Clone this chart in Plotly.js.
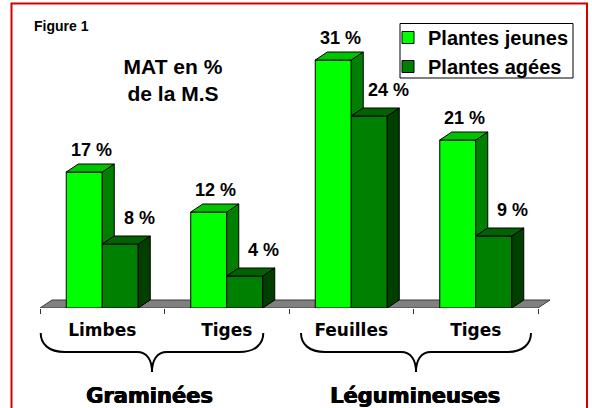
<!DOCTYPE html>
<html>
<head>
<meta charset="utf-8">
<script src="https://cdn.plot.ly/plotly-3.0.1.min.js"></script>
<style>html,body{margin:0;padding:0;background:#fff;}#chart{width:592px;height:408px;}</style>
</head>
<body>
<div id="chart"></div>
<script>
// ---- data ----
var categories = ['Limbes', 'Tiges', 'Feuilles', 'Tiges'];
var groups = ['Graminées', 'Légumineuses'];
var seriesNames = ['Plantes jeunes', 'Plantes agées'];
var jeunes = [17, 12, 31, 21];
var agees = [8, 4, 24, 9];
var valueLabels = jeunes.map(function(v){return v + ' %';});
var valueLabels2 = agees.map(function(v){return v + ' %';});

// ---- geometry ----
var W = 592, H = 408;
var mL = 40, mR = 42, mT = 36, mB = 100;
var plotW = W - mL - mR, plotH = H - mT - mB;
var unitPx = 124.5;               // px per category
var xmin = -0.5, xmax = xmin + plotW / unitPx;
var ymax = 34;                    // 8 px per unit
var pxPerY = plotH / ymax;
var barW = 36 / unitPx;
var dx = 12 / unitPx, dy = 8 / pxPerY;   // 3D depth offset

function px(x){ return (x - mL) / plotW; }
function py(y){ return (H - mB - y) / plotH; }

var idx = categories.map(function(c,i){return i;});
var traces = [];

var cLight = '#00ff00', cLightTop = '#00c400', cLightSide = '#007f00';
var cDark = '#008000', cDarkTop = '#006200', cDarkSide = '#003f00';

traces.push({type:'bar', name: seriesNames[0], x: idx, y: jeunes, width: barW, offset: -barW,
  marker:{color:cLight, line:{color:'#000', width:1}}, hoverinfo:'skip'});
traces.push({type:'bar', name: seriesNames[1], x: idx, y: agees, width: barW, offset: 0,
  marker:{color:cDark, line:{color:'#000', width:1}}, hoverinfo:'skip'});

function poly(xs, ys, color){
  traces.push({type:'scatter', mode:'lines', x: xs.concat([xs[0]]), y: ys.concat([ys[0]]),
    fill:'toself', fillcolor: color, line:{color:'#000', width:1}, showlegend:false, hoverinfo:'skip'});
}
idx.forEach(function(c, i){
  var lv = jeunes[i], dv = agees[i];
  var l0 = c - barW, l1 = c, d0 = c, d1 = c + barW;
  poly([l1, l1+dx, l1+dx, l1], [lv, lv+dy, dv+dy, dv], cLightSide);   // light side (visible part)
  poly([l0, l1, l1+dx, l0+dx], [lv, lv, lv+dy, lv+dy], cLightTop);    // light top
  poly([d1, d1+dx, d1+dx, d1], [dv, dv+dy, dy, 0], cDarkSide);        // dark side
  poly([d0, d1, d1+dx, d0+dx], [dv, dv, dv+dy, dv+dy], cDarkTop);     // dark top
});

var labFont = {family:'Liberation Sans, Arial, sans-serif', size:18, weight:'bold', color:'#000'};
var annotations = [];
idx.forEach(function(c, i){
  annotations.push({x: c - barW/2, y: jeunes[i], xref:'x', yref:'y', text: valueLabels[i], showarrow:false,
    xshift: 7, yshift: 22, font: labFont});
  annotations.push({x: c + barW/2, y: agees[i], xref:'x', yref:'y', text: valueLabels2[i], showarrow:false,
    xshift: 19, yshift: 26, font: labFont});
});
annotations.push({x: px(32), y: py(25.5), xref:'paper', yref:'paper', xanchor:'left', yanchor:'middle',
  text:'Figure 1', showarrow:false, font:{family:'Liberation Sans, Arial, sans-serif', size:14, weight:'bold', color:'#000'}});
var groupCenters = [149.5, 415];
groups.forEach(function(g, i){
  annotations.push({x: px(groupCenters[i]), y: py(396), xref:'paper', yref:'paper', xanchor:'center', yanchor:'middle',
    text: g, showarrow:false, font:{family:'DejaVu Sans, sans-serif', size:21, weight:'bold', color:'#000',
    shadow:'0.7px 0 0 #000, -0.3px 0 0 #000'}});
});

function brace(x0, xc, x1, yt, ym, yb){
  var p = function(x,y){ return px(x).toFixed(5) + ',' + py(y).toFixed(5); };
  return 'M' + p(x0, yt) +
    ' C' + p(x0, ym-8) + ' ' + p(x0+8, ym) + ' ' + p(x0+24, ym) +
    ' L' + p(xc-15, ym) +
    ' C' + p(xc-5, ym) + ' ' + p(xc, ym+8) + ' ' + p(xc, yb) +
    ' C' + p(xc, ym+8) + ' ' + p(xc+5, ym) + ' ' + p(xc+15, ym) +
    ' L' + p(x1-24, ym) +
    ' C' + p(x1-8, ym) + ' ' + p(x1, ym-8) + ' ' + p(x1, yt);
}

var shapes = [
  // floor
  {type:'path', xref:'x', yref:'y', layer:'below',
   path: 'M' + xmin + ',0 L3.5,0 L' + (3.5+dx) + ',' + dy + ' L' + (xmin+dx) + ',' + dy + ' Z',
   fillcolor:'#808080', line:{color:'#3a3a3a', width:1}},
  // braces
  {type:'path', xref:'paper', yref:'paper', path: brace(40.7, 152, 263.3, 333, 352, 372), line:{color:'#000', width:2}},
  {type:'path', xref:'paper', yref:'paper', path: brace(301, 416, 531, 333, 352, 372), line:{color:'#000', width:2}},
  // legend box
  {type:'rect', xref:'paper', yref:'paper', x0: px(400), x1: px(573), y0: py(23.5), y1: py(78),
   line:{color:'#000', width:1}, fillcolor:'#fff'},
  // red frame
  {type:'rect', xref:'paper', yref:'paper', x0: px(11.5), x1: px(587), y0: py(3.5), y1: py(410),
   line:{color:'#d20000', width:2}, fillcolor:'rgba(0,0,0,0)'}
];

var layout = {
  width: W, height: H,
  margin:{l:mL, r:mR, t:mT, b:mB, pad:0},
  paper_bgcolor:'#fff', plot_bgcolor:'#fff',
  barmode:'overlay',
  title:{text:'MAT en %<br>de la M.S', x: 173/W, xanchor:'center', y: 1 - 74/H, yanchor:'middle',
    font:{family:'Liberation Sans, Arial, sans-serif', size:21, weight:'bold', color:'#000'}},
  xaxis:{range:[xmin, xmax], tickmode:'array', tickvals: idx, ticktext: categories, ticks:'',
    showgrid:false, zeroline:false, showline:false, ticklabelstandoff: 10,
    tickfont:{family:'DejaVu Sans, sans-serif', size:17, weight:'bold', color:'#000'},
    minor:{tickmode:'array', tickvals:[-0.5, 0.5, 1.5, 2.5, 3.5], ticks:'outside', ticklen:5, tickwidth:1, tickcolor:'#333', showgrid:false}},
  yaxis:{range:[0, ymax], showgrid:false, zeroline:false, showline:false, showticklabels:false, ticks:''},
  showlegend:true,
  legend:{x: px(388), y: py(18), xanchor:'left', yanchor:'top', bgcolor:'rgba(0,0,0,0)', borderwidth:0,
    font:{family:'Liberation Sans, Arial, sans-serif', size:20, weight:'bold', color:'#000'}, itemwidth:30, traceorder:'normal'},
  annotations: annotations,
  shapes: shapes
};

Plotly.newPlot('chart', traces, layout, {staticPlot:true, displayModeBar:false});
</script>
</body>
</html>
